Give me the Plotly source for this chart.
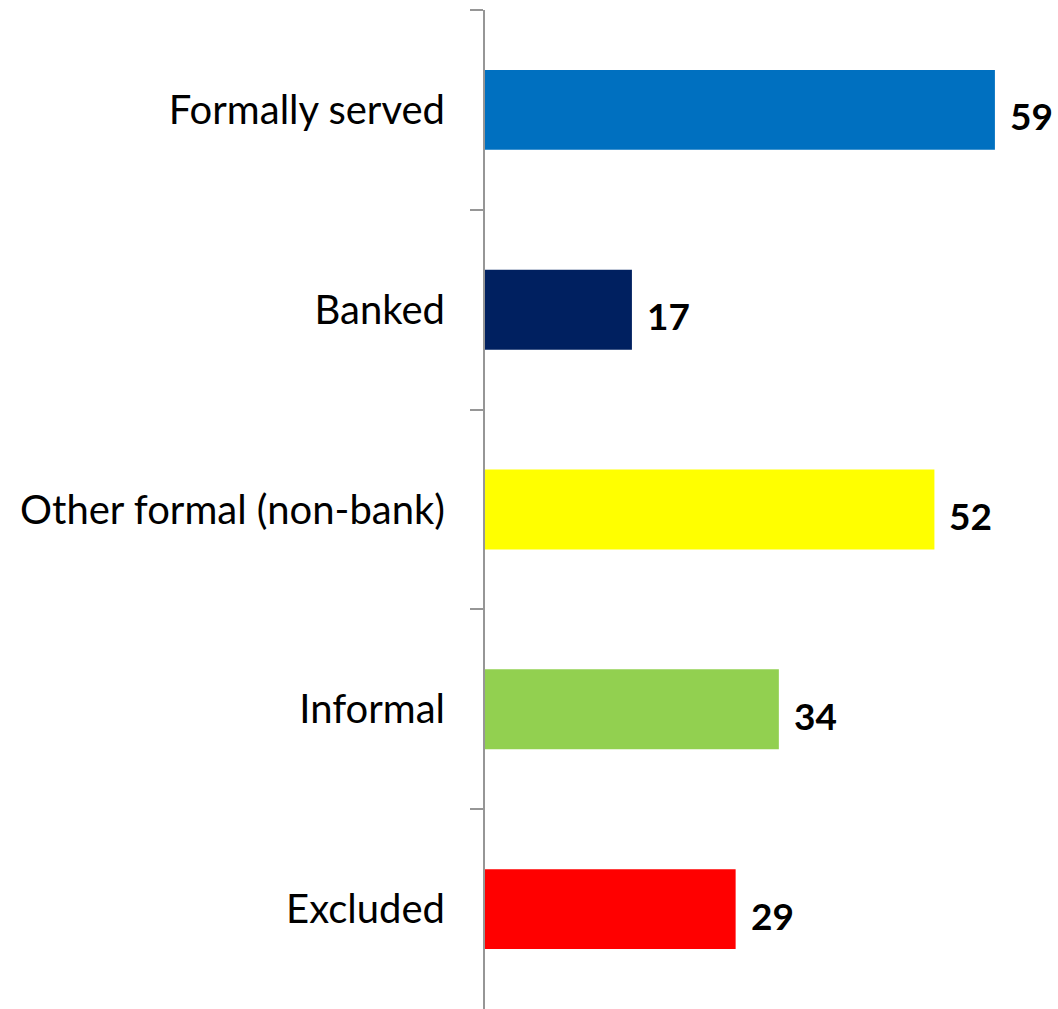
import plotly.graph_objects as go

categories = ["Formally served", "Banked", "Other formal (non-bank)", "Informal", "Excluded"]
values = [59, 17, 52, 34, 29]
colors = ["#0070C0", "#002060", "#FFFF00", "#92D050", "#FF0000"]

fig = go.Figure(
    go.Bar(
        x=values,
        y=categories,
        orientation="h",
        marker=dict(color=colors, line=dict(width=0)),
        hoverinfo="skip",
    )
)

# bold value labels just past the end of each bar
for cat, val in zip(categories, values):
    fig.add_annotation(
        x=val, y=cat, text=f"<b>{val}</b>", showarrow=False,
        xanchor="left", yanchor="middle", xshift=13, yshift=-6,
        font=dict(family="Lato, Carlito, sans-serif", size=37, color="#000000"),
    )

fig.update_layout(
    width=1058, height=1009,
    margin=dict(l=485, r=0, t=10, b=0),
    paper_bgcolor="white", plot_bgcolor="white",
    bargap=0.6,
    showlegend=False,
    font=dict(family="Lato, Carlito, sans-serif", color="#000000"),
)
fig.update_xaxes(range=[0, 66.3], visible=False, fixedrange=True)
fig.update_yaxes(
    autorange="reversed",
    showline=True, linecolor="#969696", linewidth=2,
    ticks="outside", tickson="boundaries", ticklen=13, tickcolor="#969696", tickwidth=2,
    tickfont=dict(size=40, color="#000000"),
    ticklabelstandoff=30,
    showgrid=False, zeroline=False,
)

fig.write_html("out.html")
